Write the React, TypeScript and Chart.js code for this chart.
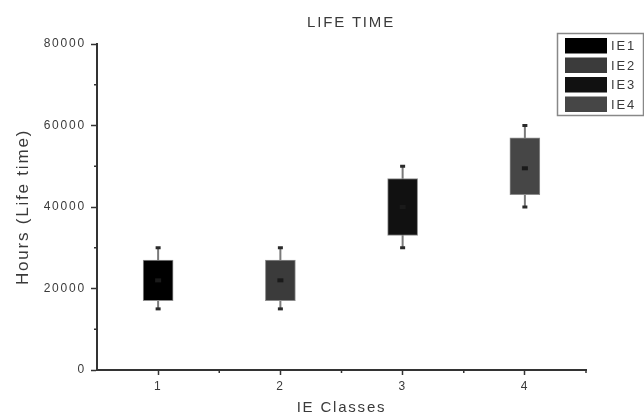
import React, { useEffect, useRef } from 'react';
import { Chart, registerables } from 'chart.js';

Chart.register(...registerables);

const categories = ['IE1', 'IE2', 'IE3', 'IE4'];
const classPositions = [1, 2, 3, 4];
const whiskerLow = [15000, 15000, 30000, 40000];
const q1 = [17000, 17000, 33000, 43000];
const q3 = [27000, 27000, 47000, 57000];
const whiskerHigh = [30000, 30000, 50000, 60000];
const means = [22000, 22000, 40000, 49500];
const boxColors = ['#000000', '#3b3b3b', '#111111', '#464646'];
const yMinorTicks = [10000, 30000, 50000, 70000];
const xMinorTicks = [1.5, 2.5, 3.5, 4.5];

const FONT = '"Liberation Sans", Arial, sans-serif';
const SPACING = '1.8px';
const TEXT = '#3a3a3a';

export default function App() {
  const ref = useRef<HTMLCanvasElement>(null);

  useEffect(() => {
    document.body.style.margin = '0';
    const canvas = ref.current!;
    const spacing = (chart: any) => {
      (chart.ctx as any).letterSpacing = SPACING;
    };

    const extras = {
      id: 'boxExtras',
      beforeUpdate: spacing,
      beforeLayout: spacing,
      beforeDraw: spacing,
      beforeDatasetsDraw(chart: any) {
        const { ctx, scales } = chart;
        const xs = scales.x, ys = scales.y;
        ctx.save();
        ctx.strokeStyle = '#7a7a7a';
        ctx.lineWidth = 2;
        classPositions.forEach((p, i) => {
          const x = xs.getPixelForValue(p);
          ctx.beginPath();
          ctx.moveTo(x, ys.getPixelForValue(whiskerLow[i]));
          ctx.lineTo(x, ys.getPixelForValue(whiskerHigh[i]));
          ctx.stroke();
        });
        ctx.restore();
      },
      afterDatasetsDraw(chart: any) {
        const { ctx, scales } = chart;
        const xs = scales.x, ys = scales.y;
        ctx.save();
        classPositions.forEach((p, i) => {
          const x = xs.getPixelForValue(p);
          ctx.fillStyle = '#2a2a2a';
          [whiskerLow[i], whiskerHigh[i]].forEach((v) => {
            const y = ys.getPixelForValue(v);
            ctx.fillRect(x - 2.5, y - 1.5, 5, 3);
          });
          const my = ys.getPixelForValue(means[i]);
          ctx.fillStyle = '#1a1a1a';
          ctx.fillRect(x - 3, my - 2, 6, 4);
        });
        ctx.restore();
      },
      afterDraw(chart: any) {
        const { ctx, scales, chartArea } = chart;
        const xs = scales.x, ys = scales.y;
        ctx.save();
        (ctx as any).letterSpacing = SPACING;
        ctx.strokeStyle = '#333333';
        ctx.lineWidth = 1.5;
        yMinorTicks.forEach((v) => {
          const y = ys.getPixelForValue(v);
          ctx.beginPath();
          ctx.moveTo(chartArea.left - 3, y);
          ctx.lineTo(chartArea.left, y);
          ctx.stroke();
        });
        xMinorTicks.forEach((v) => {
          const x = xs.getPixelForValue(v);
          ctx.beginPath();
          ctx.moveTo(x, chartArea.bottom);
          ctx.lineTo(x, chartArea.bottom + 3);
          ctx.stroke();
        });
        ctx.fillStyle = TEXT;
        ctx.font = `15px ${FONT}`;
        ctx.textAlign = 'center';
        ctx.textBaseline = 'middle';
        ctx.fillText('LIFE TIME', 351, 23);
        const lx = 557, ly = 33;
        ctx.fillStyle = '#ffffff';
        ctx.fillRect(lx, ly, 86, 82);
        ctx.strokeStyle = '#888888';
        ctx.lineWidth = 1.5;
        ctx.strokeRect(lx + 0.5, ly + 0.5, 86, 82);
        ctx.font = `13px ${FONT}`;
        ctx.textAlign = 'left';
        chart.data.datasets.forEach((ds: any, i: number) => {
          const top = ly + 5 + i * 19.5;
          ctx.fillStyle = ds.backgroundColor;
          ctx.fillRect(lx + 8, top, 42, 15.5);
          ctx.fillStyle = TEXT;
          ctx.fillText(ds.label, lx + 54, top + 8.5);
        });
        ctx.restore();
      },
    };

    const chart = new Chart(canvas, {
      type: 'bar',
      data: {
        datasets: categories.map((c, i) => ({
          label: c,
          data: [{ x: classPositions[i], y: [q1[i], q3[i]] }],
          backgroundColor: boxColors[i],
          borderColor: '#8c8c8c',
          borderWidth: 1,
          borderSkipped: false,
          barThickness: 30,
          grouped: false,
        })) as any,
      },
      options: {
        animation: false,
        responsive: false,
        devicePixelRatio: 1,
        layout: { padding: { top: 44, right: 58, left: 0, bottom: 0 } },
        plugins: {
          legend: { display: false },
          title: { display: false },
          tooltip: { enabled: false },
        },
        font: { family: FONT },
        scales: {
          x: {
            type: 'linear',
            min: 0.5,
            max: 4.5,
            offset: false,
            afterBuildTicks: (s: any) => {
              s.ticks = classPositions.map((v) => ({ value: v }));
            },
            afterFit: (s: any) => {
              s.height = 47;
            },
            grid: {
              display: true,
              drawOnChartArea: false,
              drawTicks: true,
              tickLength: 5,
              tickColor: '#333333',
              tickWidth: 1.5,
              offset: false,
            },
            border: { display: true, color: '#333333', width: 2 },
            ticks: {
              color: TEXT,
              font: { size: 12, family: FONT },
              padding: 4,
              maxRotation: 0,
              autoSkip: false,
              callback: (v: any) => String(v),
            },
            title: {
              display: true,
              text: 'IE Classes',
              color: TEXT,
              font: { size: 15, family: FONT },
              padding: { top: 0, bottom: 0 },
            },
          },
          y: {
            min: 0,
            max: 80000,
            afterFit: (s: any) => {
              s.width = 97;
            },
            grid: {
              display: true,
              drawOnChartArea: false,
              drawTicks: true,
              tickLength: 6,
              tickColor: '#333333',
              tickWidth: 1.5,
            },
            border: { display: true, color: '#333333', width: 2 },
            ticks: {
              stepSize: 20000,
              color: TEXT,
              font: { size: 12, family: FONT },
              padding: 5,
              callback: (v: any) => String(v),
            },
            title: {
              display: true,
              text: 'Hours (Life time)',
              color: TEXT,
              font: { size: 17, family: FONT },
              padding: { top: 13, bottom: 0 },
            },
          },
        },
      } as any,
      plugins: [extras],
    });

    return () => chart.destroy();
  }, []);

  return (
    <canvas
      ref={ref}
      width={644}
      height={417}
      style={{ display: 'block', width: 644, height: 417 }}
    />
  );
}
